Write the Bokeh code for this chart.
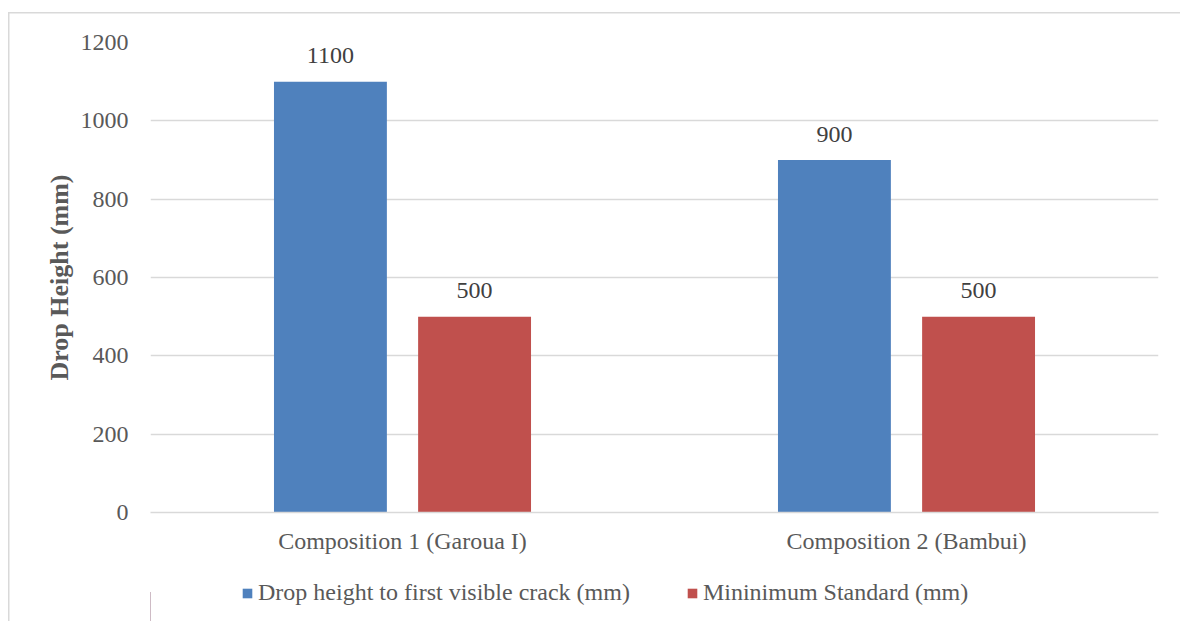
from bokeh.plotting import figure
from bokeh.layouts import column
from bokeh.models import (ColumnDataSource, FactorRange, Range1d, FixedTicker,
                          Legend, LegendItem)
from bokeh.transform import dodge
from bokeh.core.properties import value
from bokeh.embed import file_html
from bokeh.resources import INLINE

# Drop test results per composition
compositions = ["Composition 1 (Garoua I)", "Composition 2 (Bambui)"]
drop_height = [1100, 900]
min_standard = [500, 500]
y_ticks = [0, 200, 400, 600, 800, 1000, 1200]

series_names = ["Drop height to first visible crack (mm)", "Mininimum Standard (mm)"]
colors = ["#4F81BD", "#C0504D"]

FONT = "Liberation Serif"
GRAY = "#595959"

src_a = ColumnDataSource(dict(cat=compositions, val=drop_height,
                              txt=[str(v) for v in drop_height]))
src_b = ColumnDataSource(dict(cat=compositions, val=min_standard,
                              txt=[str(v) for v in min_standard]))

# main bar chart
p = figure(frame_width=1008, frame_height=470,
           x_range=FactorRange(factors=compositions, range_padding=0),
           y_range=Range1d(0, 1200),
           output_backend="svg", toolbar_location=None,
           min_border_left=142, min_border_right=22,
           min_border_top=30, min_border_bottom=50)
p.outline_line_color = None
p.background_fill_color = None
p.border_fill_color = None

offset = 0.143
bar_w = 0.224
p.vbar(x=dodge("cat", -offset, range=p.x_range), top="val", width=bar_w,
       source=src_a, fill_color=colors[0], line_color=None)
p.vbar(x=dodge("cat", offset, range=p.x_range), top="val", width=bar_w,
       source=src_b, fill_color=colors[1], line_color=None)

for src, off in ((src_a, -offset), (src_b, offset)):
    p.text(x=dodge("cat", off, range=p.x_range), y="val", text="txt", source=src,
           text_align="center", text_baseline="alphabetic", y_offset=-26,
           text_font=value(FONT), text_font_size="24px", text_color="#404040")

# axes
p.yaxis.ticker = FixedTicker(ticks=y_ticks)
p.yaxis.axis_line_color = None
p.yaxis.major_tick_line_color = None
p.yaxis.minor_tick_line_color = None
p.yaxis.major_label_standoff = 16
p.yaxis.major_label_text_font = FONT
p.yaxis.major_label_text_font_size = "24px"
p.yaxis.major_label_text_color = GRAY
p.yaxis.axis_label = "Drop Height (mm)"
p.yaxis.axis_label_text_font = FONT
p.yaxis.axis_label_text_font_size = "26px"
p.yaxis.axis_label_text_font_style = "bold"
p.yaxis.axis_label_text_color = GRAY
p.yaxis.axis_label_standoff = 4

p.xaxis.axis_line_color = "#d9d9d9"
p.xaxis.axis_line_width = 1.5
p.xaxis.major_tick_line_color = None
p.xaxis.minor_tick_line_color = None
p.xaxis.major_label_standoff = 9
p.xaxis.major_label_text_font = FONT
p.xaxis.major_label_text_font_size = "24px"
p.xaxis.major_label_text_color = GRAY

p.xgrid.grid_line_color = None
p.ygrid.grid_line_color = "#d9d9d9"
p.ygrid.grid_line_width = 1.5

# legend strip under the chart; the swatch renderers sit outside its view range
leg = figure(frame_width=1172, frame_height=59, x_axis_type=None, y_axis_type=None,
             x_range=Range1d(0, 1), y_range=Range1d(0, 1), min_border=0,
             output_backend="svg", toolbar_location=None)
leg.outline_line_color = None
leg.background_fill_color = None
leg.border_fill_color = None
swatches = [leg.vbar(x=[-10], top=[0.5], width=1, fill_color=c, line_color=None)
            for c in colors]

legend = Legend(items=[LegendItem(label=n, renderers=[r])
                       for n, r in zip(series_names, swatches)],
                orientation="horizontal", location=(233, 15),
                glyph_width=12, glyph_height=12, label_standoff=5, spacing=56,
                padding=0, margin=0, border_line_color=None,
                background_fill_alpha=0,
                label_text_font=FONT, label_text_font_size="24px",
                label_text_color=GRAY)
leg.add_layout(legend, "center")

# chart box: thin gray line along its top and left edges
page = column(p, leg, margin=(12, 0, 0, 8), spacing=0,
              styles={"box-shadow": "inset 1.5px 1.5px 0 0 #d9d9d9"})

open("out.html", "w").write(file_html(page, INLINE))
